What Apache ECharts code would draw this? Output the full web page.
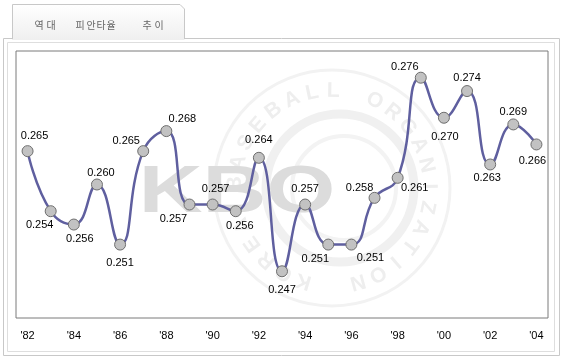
<!DOCTYPE html>
<html>
<head>
<meta charset="utf-8">
<script src="https://cdn.jsdelivr.net/npm/echarts@6/dist/echarts.min.js"></script>
<style>
html,body{margin:0;padding:0;background:#fff;}
#c{width:563px;height:358px;}
</style>
</head>
<body>
<div id="c"></div>
<script>
// ---- data ----
const years = ['1982','1983','1984','1985','1986','1987','1988','1989','1990','1991','1992','1993','1994','1995','1996','1997','1998','1999','2000','2001','2002','2003','2004'];
const tickLabels = ["'82","'83","'84","'85","'86","'87","'88","'89","'90","'91","'92","'93","'94","'95","'96","'97","'98","'99","'00","'01","'02","'03","'04"];
const values = [0.265,0.256,0.254,0.260,0.251,0.265,0.268,0.257,0.257,0.256,0.264,0.247,0.257,0.251,0.251,0.258,0.261,0.276,0.270,0.274,0.263,0.269,0.266];
const valueLabels = ['0.265','0.254','0.256','0.260','0.251','0.265','0.268','0.257','0.257','0.256','0.264','0.247','0.257','0.251','0.251','0.258','0.261','0.276','0.270','0.274','0.263','0.269','0.266'];
const tabTitle = ['역','대','피','안','타','율','추','이'];

// ---- styling (label placement offsets) ----
const labelOffsets = [[7,-15],[-11,14],[6,14],[4,-12],[0,18],[-17,-10],[16,-12],[-16,14],[3,-16],[4,15],[0,-18],[0,19],[0,-16],[-13,14],[19,13],[-15,-10],[17,10],[-16,-11],[1,19],[0,-13],[-3,13],[0,-12],[-4,17]];
const tabTitleX = [39,51,80,91,101,111,147,159];

const chart = echarts.init(document.getElementById('c'), null, {renderer:'canvas'});

const graphics = [];
// outer panel frame
graphics.push({type:'rect', z:0, shape:{x:3.5,y:38.5,width:556,height:317}, style:{fill:'#fff',stroke:'#c8c8c8',lineWidth:1}});
graphics.push({type:'rect', z:0, shape:{x:7.5,y:42.5,width:547,height:309}, style:{fill:'none',stroke:'#dedede',lineWidth:1}});
// tab
graphics.push({type:'polygon', z:0, shape:{points:[[12,40],[12,4.5],[180,4.5],[184.5,9],[184.5,40]]},
  style:{fill:new echarts.graphic.LinearGradient(0,0,0,1,[{offset:0,color:'#ffffff'},{offset:1,color:'#efefef'}]), stroke:null}});
graphics.push({type:'polyline', z:0, shape:{points:[[12.5,39],[12.5,4.5],[180,4.5],[184.5,9],[184.5,39]]}, style:{stroke:'#c8c8c8',lineWidth:1,fill:null}});
tabTitle.forEach((ch,i)=>{
  graphics.push({type:'text', z:1, x:tabTitleX[i], y:25, style:{text:ch, fill:'#666666', font:'10px "Noto Sans CJK KR"', align:'center', verticalAlign:'middle'}});
});
// watermark: KBO logo
const cx = 332, cy = 188;
graphics.push({type:'circle', z:1, shape:{cx:cx,cy:cy,r:118}, style:{fill:null,stroke:'#f2f2f2',lineWidth:3}});
graphics.push({type:'circle', z:1, shape:{cx:cx+8,cy:cy,r:74}, style:{fill:null,stroke:'#f0f0f0',lineWidth:9}});
graphics.push({type:'circle', z:1, shape:{cx:cx+12,cy:cy,r:52}, style:{fill:null,stroke:'#f3f3f3',lineWidth:4}});
const ringText = 'KOREA BASEBALL ORGANIZATION';
for (let i=0;i<ringText.length;i++){
  const ch = ringText[i];
  if (ch===' ') continue;
  const th = (197 + i*12.6) * Math.PI/180;
  graphics.push({type:'text', z:1, x:cx + 97*Math.sin(th), y:cy - 97*Math.cos(th), rotation:-th,
    style:{text:ch, fill:'#eeeeee', font:'bold 21px "Liberation Sans"', align:'center', verticalAlign:'middle'}});
}
graphics.push({type:'text', z:1, x:237, y:194, scaleX:1.34, originX:0, originY:0,
  style:{text:'KBO', fill:'#dcdcdc', font:'bold 66px "Liberation Sans"', align:'center', verticalAlign:'middle'}});

const option = {
  animation:false,
  backgroundColor:'#fff',
  graphic: graphics,
  grid:{left:16, top:51, width:532, height:267, show:true, borderColor:'#7a7a7a', borderWidth:1, backgroundColor:'transparent', z:3},
  xAxis:{type:'category', data:tickLabels, boundaryGap:true,
    axisLine:{show:false}, axisTick:{show:false}, splitLine:{show:false},
    axisLabel:{interval:1, margin:12, color:'#000', fontSize:11, fontFamily:'Liberation Sans'}},
  yAxis:{type:'value', min:0.24, max:0.28, show:false, splitLine:{show:false}},
  series:[{
    type:'line', smooth:0.5, z:5,
    data: values.map((v,i)=>({value:v, label:{offset:labelOffsets[i]}})),
    lineStyle:{color:'#5f5f9f', width:2.5},
    symbol:'circle', symbolSize:11,
    itemStyle:{color:'#c2c2c2', borderColor:'#6e6e6e', borderWidth:1},
    label:{show:true, position:'inside', color:'#000', fontSize:11, fontFamily:'Liberation Sans',
      formatter:(p)=>valueLabels[p.dataIndex]}
  }]
};
chart.setOption(option);
</script>
</body>
</html>
